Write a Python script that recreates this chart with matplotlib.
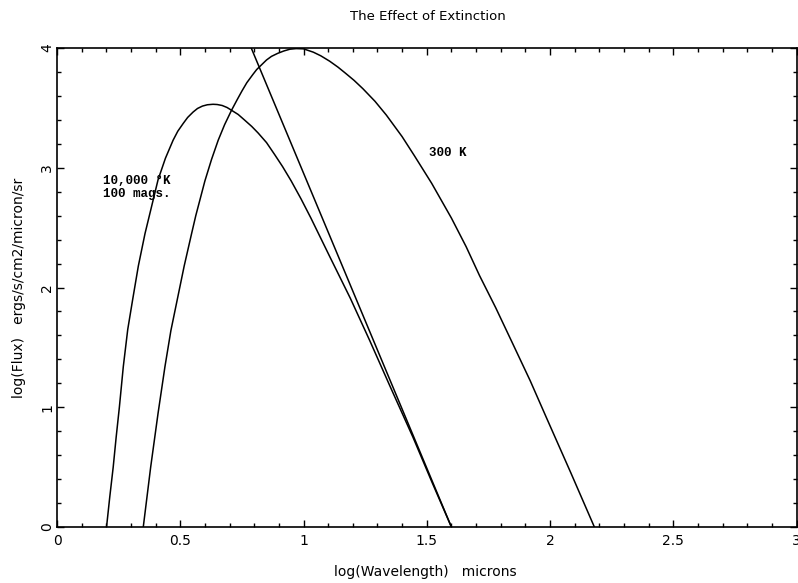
import matplotlib
matplotlib.use("Agg")
import matplotlib.pyplot as plt
from matplotlib.ticker import MultipleLocator

# 10,000 K blackbody seen through 100 mags of extinction
hot_ext_x = [0.201, 0.214, 0.228, 0.24, 0.253, 0.269, 0.287, 0.307, 0.33, 0.357,
             0.39, 0.41, 0.44, 0.471, 0.49, 0.512, 0.53, 0.552, 0.57, 0.59,
             0.61, 0.633, 0.65, 0.67, 0.69, 0.708, 0.735, 0.76, 0.79, 0.816,
             0.85, 0.883, 0.915, 0.95, 0.99, 1.03, 1.106, 1.19, 1.268, 1.35,
             1.444, 1.52, 1.60]
hot_ext_y = [0.0, 0.25, 0.5, 0.75, 1.0, 1.34, 1.65, 1.90, 2.18, 2.45,
             2.73, 2.90, 3.08, 3.23, 3.305, 3.37, 3.42, 3.465, 3.495, 3.515,
             3.526, 3.53, 3.528, 3.52, 3.503, 3.48, 3.445, 3.40, 3.345, 3.29,
             3.21, 3.11, 3.01, 2.89, 2.74, 2.58, 2.26, 1.91, 1.56, 1.18,
             0.75, 0.38, 0.0]

# 300 K blackbody
cool_x = [0.350, 0.365, 0.380, 0.41, 0.438, 0.462, 0.488, 0.516, 0.546, 0.563,
          0.600, 0.627, 0.654, 0.68, 0.708, 0.73, 0.75, 0.77, 0.795, 0.81,
          0.83, 0.85, 0.870, 0.895, 0.92, 0.945, 0.97, 1.0, 1.04, 1.07,
          1.106, 1.14, 1.17, 1.205, 1.241, 1.29, 1.336, 1.40, 1.45, 1.52,
          1.60, 1.66, 1.714, 1.78, 1.849, 1.92, 1.984, 2.085, 2.18]
cool_y = [0.0, 0.25, 0.50, 0.95, 1.34, 1.64, 1.90, 2.18, 2.45, 2.60,
          2.89, 3.07, 3.23, 3.36, 3.48, 3.565, 3.64, 3.71, 3.78, 3.82,
          3.86, 3.90, 3.93, 3.955, 3.975, 3.99, 3.995, 3.993, 3.965, 3.935,
          3.89, 3.84, 3.79, 3.73, 3.66, 3.555, 3.44, 3.26, 3.10, 2.87,
          2.58, 2.34, 2.10, 1.83, 1.53, 1.22, 0.92, 0.45, 0.0]

# 10,000 K, no extinction (Rayleigh-Jeans side)
hot_x = [0.788, 1.194, 1.60]
hot_y = [4.0, 2.0, 0.0]

fig = plt.figure(figsize=(7.98, 5.83), dpi=100)
ax = fig.add_axes([57 / 798, 56 / 583, 739.5 / 798, 479 / 583])

ax.plot(hot_ext_x, hot_ext_y, color="black", lw=1.1)
ax.plot(cool_x, cool_y, color="black", lw=1.1)
ax.plot(hot_x, hot_y, color="black", lw=1.1)

ax.set_xlim(0, 3)
ax.set_ylim(0, 4)
ax.xaxis.set_major_locator(MultipleLocator(0.5))
ax.xaxis.set_minor_locator(MultipleLocator(0.1))
ax.yaxis.set_major_locator(MultipleLocator(1))
ax.yaxis.set_minor_locator(MultipleLocator(0.2))
ax.set_xticks([0, 0.5, 1, 1.5, 2, 2.5, 3])
ax.set_xticklabels(["0", "0.5", "1", "1.5", "2", "2.5", "3"])
ax.tick_params(which="both", direction="in", top=True, right=True, labelsize=10)
ax.tick_params(which="major", length=5, width=1)
ax.tick_params(which="minor", length=3, width=1)
ax.tick_params(axis="x", pad=5)
ax.tick_params(axis="y", pad=2)
for lab in ax.get_yticklabels():
    lab.set_rotation(90)
    lab.set_va("center")
for s in ax.spines.values():
    s.set_linewidth(1.2)

mono = ["Liberation Mono", "DejaVu Sans Mono"]
ax.text(0.188, 2.835, "10,000 \u00b0K\n100 mags.", family=mono, fontweight="bold",
        fontsize=9, va="center", ha="left", linespacing=1.05)
ax.text(1.51, 3.12, "300 K", family=mono, fontweight="bold", fontsize=9,
        va="center", ha="left")

fig.text(428 / 798, 1 - 17 / 583, "The Effect of Extinction", ha="center",
         va="center", fontsize=9.5)
fig.text(425 / 798, 1 - 572 / 583, "log(Wavelength)   microns", ha="center",
         va="center", fontsize=10)
fig.text(19 / 798, 1 - 288 / 583, "log(Flux)   ergs/s/cm2/micron/sr", ha="center",
         va="center", rotation=90, fontsize=10)

fig.savefig("out.png", dpi=100)
